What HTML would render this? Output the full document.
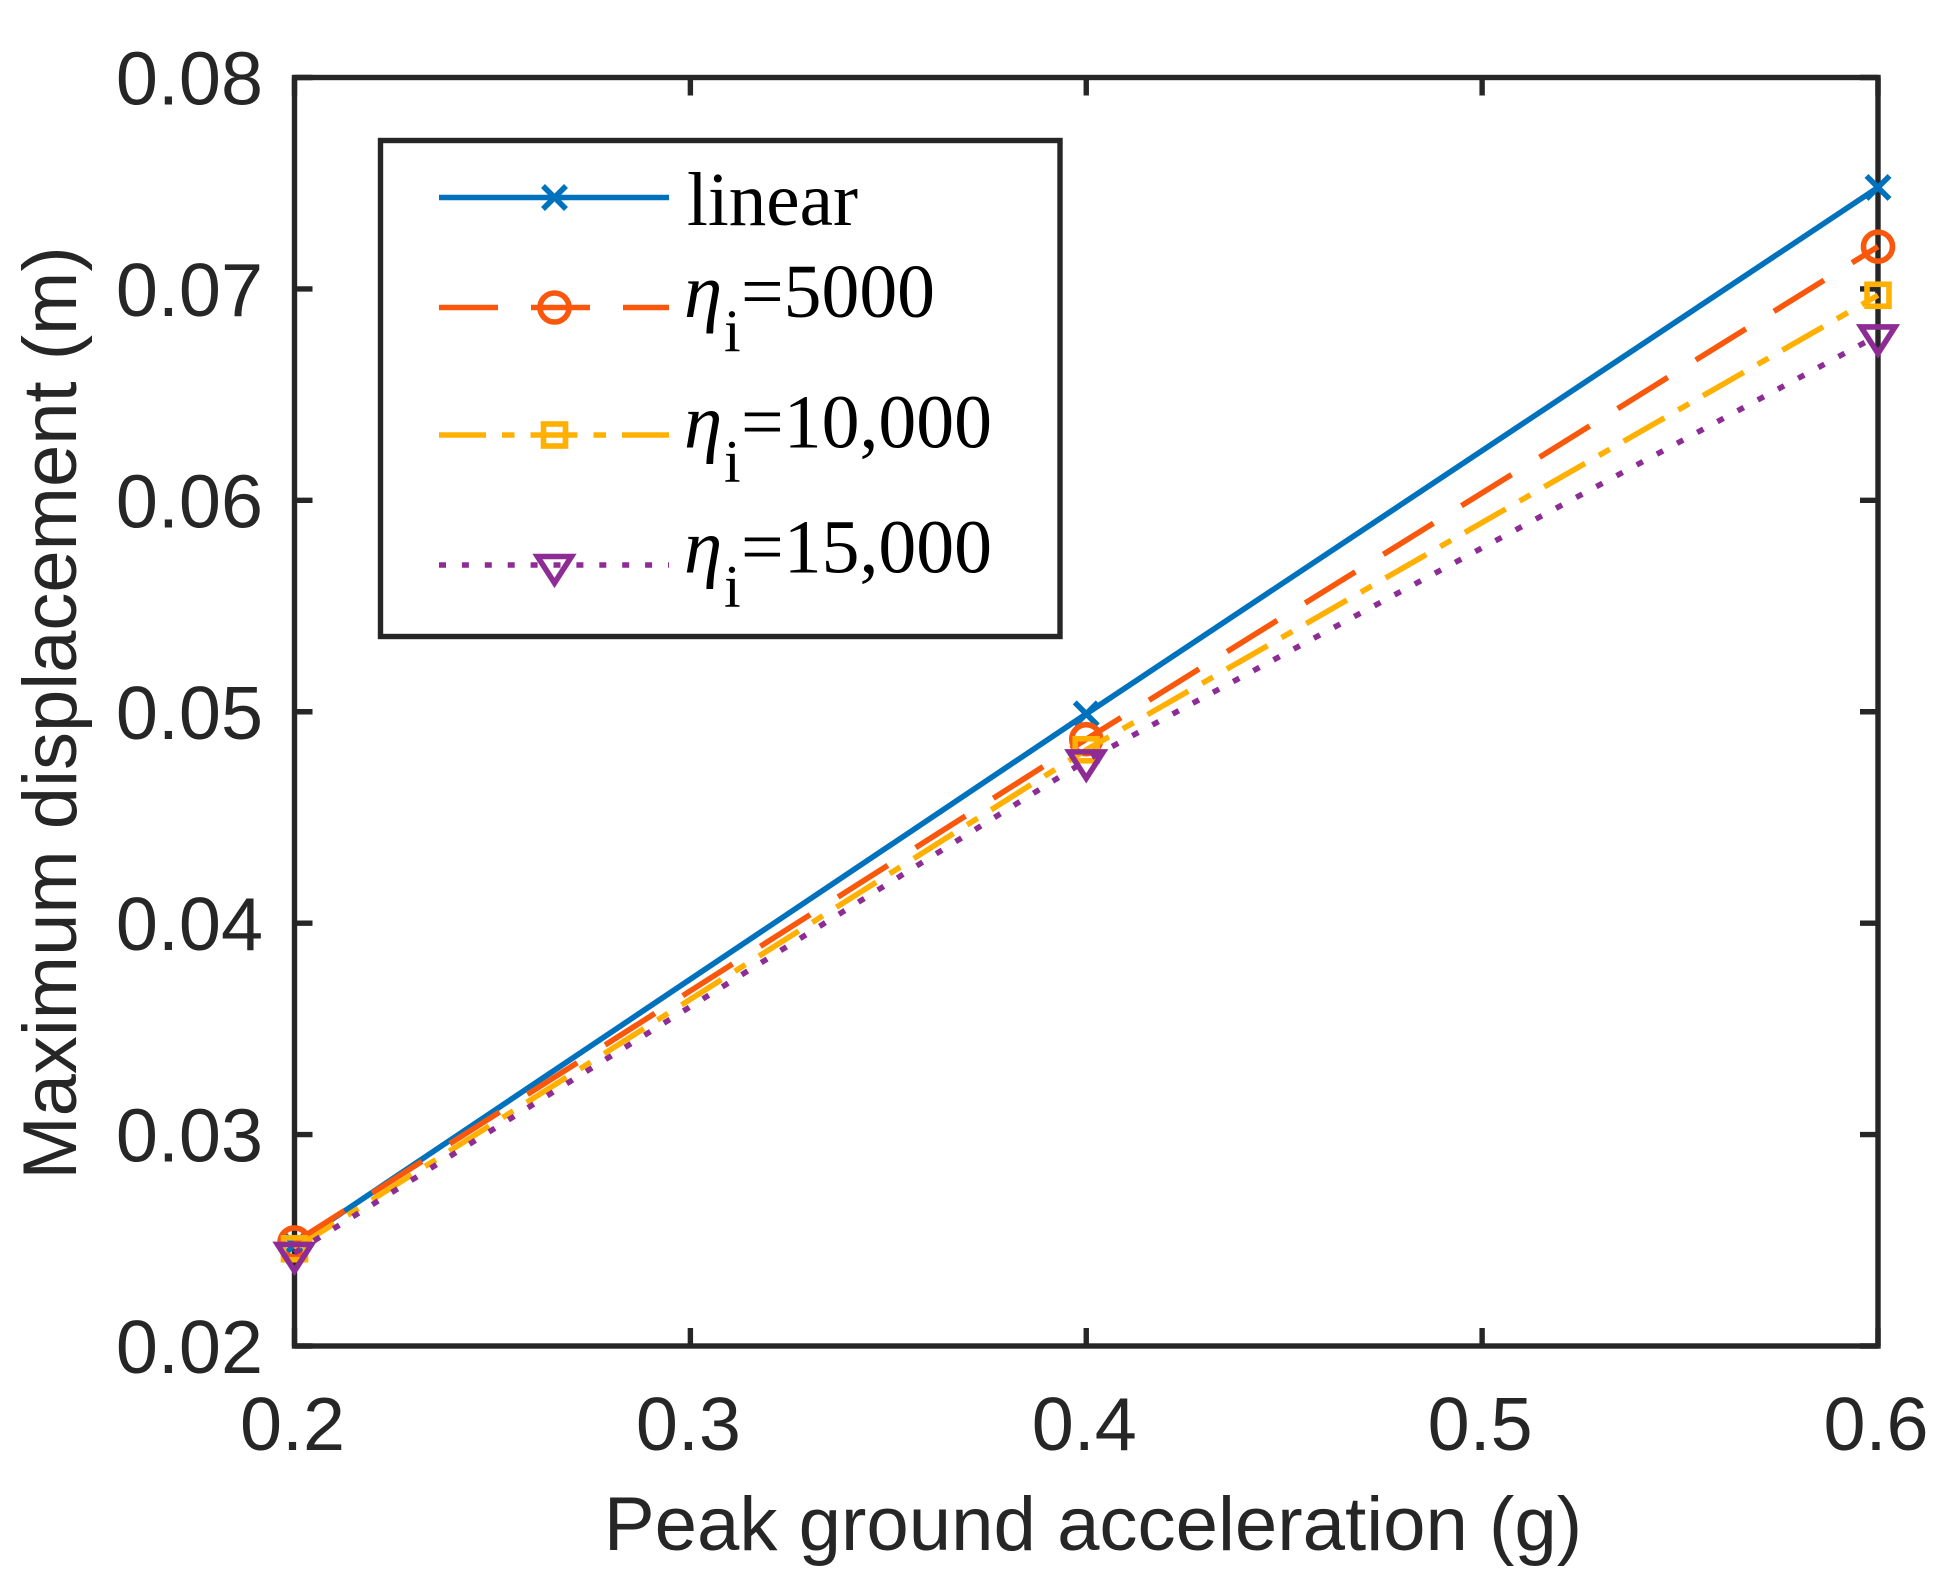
<!DOCTYPE html>
<html lang="en">
<head>
<meta charset="utf-8">
<title>Maximum displacement vs. peak ground acceleration</title>
<style>
html,body{margin:0;padding:0;background:#fff;}
svg{display:block;}
.tick{font-family:"Liberation Sans",sans-serif;font-size:75.6px;fill:#262626;}
.title{font-family:"Liberation Sans",sans-serif;font-size:76.2px;fill:#262626;}
.ytitle{font-family:"Liberation Sans",sans-serif;font-size:76px;fill:#262626;}
.leg{font-family:"Liberation Serif",serif;font-size:76px;fill:#000;}
.eta{font-family:"Liberation Serif",serif;font-style:italic;font-size:77px;fill:#000;}
.sub{font-family:"Liberation Serif",serif;font-size:60px;fill:#000;}
</style>
</head>
<body>
<svg id="chart" xmlns="http://www.w3.org/2000/svg" width="1942" height="1589" viewBox="0 0 1942 1589">
  <rect x="0" y="0" width="1942" height="1589" fill="#fff"/>
  <g id="axes-layer"></g>
  <g id="series-layer"></g>
  <text class="title" x="1093" y="1550" text-anchor="middle">Peak ground acceleration (g)</text>
  <text class="ytitle" transform="translate(76 713) rotate(-90)" text-anchor="middle">Maximum displacement (m)</text>
  <g id="legend">
    <rect x="380.5" y="140.5" width="679.5" height="496" fill="#fff" stroke="#262626" stroke-width="5.4"/>
    <g id="legend-keys"></g>
    <text class="leg" x="687" y="225" textLength="171" lengthAdjust="spacingAndGlyphs">linear</text>
    <g>
      <text class="eta" x="684" y="317">η</text><text class="sub" x="724" y="351">i</text><text class="leg" x="741" y="317" textLength="194" lengthAdjust="spacingAndGlyphs">=5000</text>
    </g>
    <g>
      <text class="eta" x="684" y="447.5">η</text><text class="sub" x="724" y="481.5">i</text><text class="leg" x="741" y="447.5" textLength="251" lengthAdjust="spacingAndGlyphs">=10,000</text>
    </g>
    <g>
      <text class="eta" x="684" y="572.5">η</text><text class="sub" x="724" y="606.5">i</text><text class="leg" x="741" y="572.5" textLength="251" lengthAdjust="spacingAndGlyphs">=15,000</text>
    </g>
  </g>
</svg>
<script>
var pga = [0.2, 0.4, 0.6];
var linearValues = [0.0248, 0.0499, 0.0748];
var eta5000Values = [0.0249, 0.0487, 0.0720];
var eta10000Values = [0.0246, 0.0482, 0.0697];
var eta15000Values = [0.0244, 0.0477, 0.0678];
var xTicks = [0.2, 0.3, 0.4, 0.5, 0.6];
var yTicks = [0.02, 0.03, 0.04, 0.05, 0.06, 0.07, 0.08];
var xTickLabels = ["0.2", "0.3", "0.4", "0.5", "0.6"];
var yTickLabels = ["0.02", "0.03", "0.04", "0.05", "0.06", "0.07", "0.08"];

var NS = "http://www.w3.org/2000/svg";
var plotLeft = 294.5, plotRight = 1878, plotTop = 77.5, plotBottom = 1346;
var xMin = 0.2, xMax = 0.6, yMin = 0.02, yMax = 0.08;
var ink = "#262626";
var frameWidth = 5.4, seriesWidth = 5.6;

function xScale(v) { return plotLeft + (v - xMin) / (xMax - xMin) * (plotRight - plotLeft); }
function yScale(v) { return plotBottom - (v - yMin) / (yMax - yMin) * (plotBottom - plotTop); }

function make(tag, parent, attrs) {
  var el = document.createElementNS(NS, tag);
  for (var k in attrs) { el.setAttribute(k, attrs[k]); }
  parent.appendChild(el);
  return el;
}

function drawMarker(parent, kind, cx, cy, color) {
  var style = { fill: "none", stroke: color, "stroke-width": seriesWidth };
  var m;
  if (kind === "x") {
    style.d = "M" + (cx - 11.5) + " " + (cy - 11.5) + "L" + (cx + 11.5) + " " + (cy + 11.5) +
              "M" + (cx - 11.5) + " " + (cy + 11.5) + "L" + (cx + 11.5) + " " + (cy - 11.5);
    m = make("path", parent, style);
  } else if (kind === "circle") {
    style.cx = cx; style.cy = cy; style.r = 14.5;
    m = make("circle", parent, style);
  } else if (kind === "square") {
    style.x = cx - 11; style.y = cy - 11; style.width = 22; style.height = 22;
    m = make("rect", parent, style);
  } else {
    style.points = (cx - 17) + "," + (cy - 8.5) + " " + (cx + 17) + "," + (cy - 8.5) + " " + cx + "," + (cy + 18);
    m = make("polygon", parent, style);
  }
  return m;
}

var axesLayer = document.getElementById("axes-layer");
var seriesLayer = document.getElementById("series-layer");
var legendKeys = document.getElementById("legend-keys");
var tickLen = 18;

var frame = make("rect", axesLayer, { x: plotLeft, y: plotTop, width: plotRight - plotLeft, height: plotBottom - plotTop, fill: "none", stroke: ink, "stroke-width": frameWidth });



xTicks.forEach(function (t, i) {
  var x = xScale(t);
  var tb = make("line", axesLayer, { x1: x, x2: x, y1: plotBottom, y2: plotBottom - tickLen, stroke: ink, "stroke-width": frameWidth });
  
  
  var tt = make("line", axesLayer, { x1: x, x2: x, y1: plotTop, y2: plotTop + tickLen, stroke: ink, "stroke-width": frameWidth });
  
  
  var lab = make("text", axesLayer, { x: x - 2, y: 1450, "text-anchor": "middle", "class": "tick" });
  lab.textContent = xTickLabels[i];
  
  
});

yTicks.forEach(function (t, i) {
  var y = yScale(t);
  var tl = make("line", axesLayer, { x1: plotLeft, x2: plotLeft + tickLen, y1: y, y2: y, stroke: ink, "stroke-width": frameWidth });
  
  
  var tr = make("line", axesLayer, { x1: plotRight, x2: plotRight - tickLen, y1: y, y2: y, stroke: ink, "stroke-width": frameWidth });
  
  
  var lab = make("text", axesLayer, { x: 263, y: y + 27, "text-anchor": "end", "class": "tick" });
  lab.textContent = yTickLabels[i];
  
  
});

var seriesStyles = [
  { values: linearValues, color: "#0072BD", dash: "none", marker: "x", legendY: 197.5 },
  { values: eta5000Values, color: "#F9570C", dash: "59 33", marker: "circle", legendY: 307.5 },
  { values: eta10000Values, color: "#FFB000", dash: "47 16 12.5 16", marker: "square", legendY: 435 },
  { values: eta15000Values, color: "#8E2C96", dash: "7 15.9", marker: "triangle", legendY: 565 }
];

seriesStyles.forEach(function (s) {
  var g = make("g", seriesLayer, {});
  
  
  var pts = pga.map(function (p, i) { return xScale(p) + "," + yScale(s.values[i]); }).join(" ");
  var line = make("polyline", g, { points: pts, fill: "none", stroke: s.color, "stroke-width": seriesWidth, "stroke-dasharray": s.dash });
  
  
  pga.forEach(function (p, i) {
    var m = drawMarker(g, s.marker, xScale(p), yScale(s.values[i]), s.color);
    
    
  });

  var key = make("g", legendKeys, {});
  
  
  make("line", key, { x1: 439, x2: 669, y1: s.legendY, y2: s.legendY, stroke: s.color, "stroke-width": seriesWidth, "stroke-dasharray": s.dash });
  drawMarker(key, s.marker, 554.5, s.legendY, s.color);
});
</script>
</body>
</html>
